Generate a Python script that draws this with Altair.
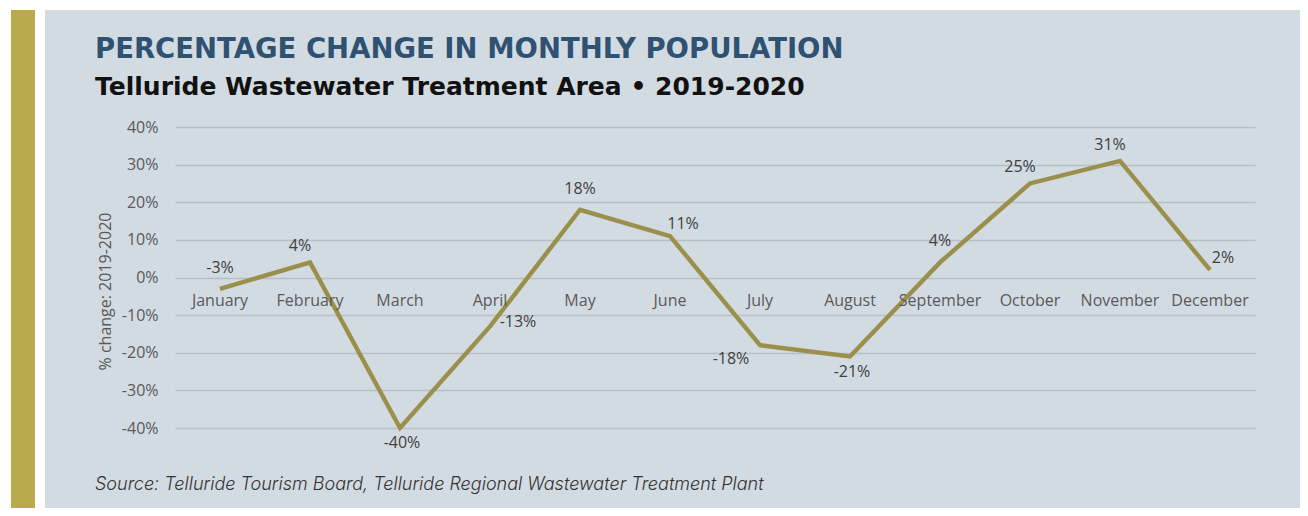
import altair as alt
import pandas as pd

months = ["January", "February", "March", "April", "May", "June",
          "July", "August", "September", "October", "November", "December"]
pct_change = [-3, 4, -40, -13, 18, 11, -18, -21, 4, 25, 31, 2]
label_place = ["above", "above-left", "below", "right", "above", "above-right",
               "below-left", "below", "above", "above-left", "above-left", "above-right"]
y_ticks = [-40, -30, -20, -10, 0, 10, 20, 30, 40]

title_text = "PERCENTAGE CHANGE IN MONTHLY POPULATION"
subtitle_text = "Telluride Wastewater Treatment Area \u2022 2019-2020"
source_text = "Source: Telluride Tourism Board, Telluride Regional Wastewater Treatment Plant"
y_title = "% change: 2019-2020"

df = pd.DataFrame({"month": months, "pct": pct_change, "place": label_place})

W, H = 1080, 301
PAD_L, PAD_T, PAD_R, PAD_B = 167, 119, 45, 80
PANEL = "#d3dbe2"
LINE = "#9a8f4b"
GOLD = "#b9aa4a"
FONT = "Open Sans"
FS = 16

xs = alt.X("month:N", sort=months, scale=alt.Scale(type="point", padding=0.5), axis=None)
y_scale = alt.Scale(domain=[-40, 40], nice=False)
y_axis = alt.Axis(values=y_ticks, labelExpr="datum.value + '%'", labelOverlap=False,
                  title=y_title, grid=True, gridColor="#b6bec6", gridWidth=1.6,
                  ticks=False, domain=False, labelPadding=17, labelFontSize=FS,
                  labelFont=FONT, labelColor="#595959", titleFont=FONT,
                  titleFontSize=FS, titleFontWeight="normal", titleColor="#595959",
                  titleAngle=-90, titleX=-70, titleY=164, titleAlign="center",
                  titleBaseline="middle")
ys = alt.Y("pct:Q", scale=y_scale, axis=y_axis, title=y_title)

base = alt.Chart(df)

line = base.mark_line(color=LINE, strokeWidth=4.4, strokeJoin="miter").encode(x=xs, y=ys)

month_labels = base.transform_calculate(zero="0").mark_text(
    font=FONT, fontSize=FS, color="#595959", dy=23, baseline="middle").encode(
    x=xs, y=alt.Y("zero:Q", scale=y_scale, axis=y_axis, title=y_title), text="month:N")

offsets = {
    "above": (0, -21),
    "above-left": (-10, -16),
    "above-right": (13, -12),
    "below": (2, 15),
    "right": (28, -4),
    "below-left": (-29, 14),
}
label_layers = []
for name, (dx, dy) in offsets.items():
    label_layers.append(
        base.transform_filter(alt.datum.place == name)
        .transform_calculate(lab="datum.pct + '%'")
        .mark_text(font=FONT, fontSize=FS, color="#404040", dx=dx, dy=dy, baseline="middle")
        .encode(x=xs, y=ys, text="lab:N")
    )

one = alt.Data(values=[{"k": 1}])
deco = alt.Chart(one)
white_left = deco.mark_rect(color="white").encode(
    x=alt.value(-PAD_L), x2=alt.value(-130), y=alt.value(-PAD_T), y2=alt.value(H + PAD_B))
white_top = deco.mark_rect(color="white").encode(
    x=alt.value(-PAD_L), x2=alt.value(W + PAD_R), y=alt.value(-PAD_T), y2=alt.value(-117))
gold = deco.mark_rect(color=GOLD).encode(
    x=alt.value(-164), x2=alt.value(-140), y=alt.value(-117), y2=alt.value(H + PAD_B))

title = deco.mark_text(text=title_text, font="DejaVu Sans", fontSize=27.5, fontWeight="bold",
                       color="#2f5273", align="left", baseline="alphabetic").encode(
    x=alt.value(-80), y=alt.value(-69))
subtitle = deco.mark_text(text=subtitle_text, font="DejaVu Sans", fontSize=25,
                          fontWeight="bold", color="#111111", align="left",
                          baseline="alphabetic").encode(
    x=alt.value(-80), y=alt.value(-32))
source = deco.mark_text(text=source_text, font="Inter", fontSize=18, fontStyle="italic",
                        fontWeight=300, color="#333333", align="left",
                        baseline="alphabetic").encode(
    x=alt.value(-80), y=alt.value(363))

chart = alt.layer(
    white_left, white_top, gold, line, month_labels, *label_layers, title, subtitle, source
).properties(
    width=W, height=H,
    autosize=alt.AutoSizeParams(type="none"),
    padding={"left": PAD_L, "top": PAD_T, "right": PAD_R, "bottom": PAD_B},
    background=PANEL,
).configure_view(stroke=None)

chart.save("out.html", embed_options={"renderer": "svg", "actions": False})
